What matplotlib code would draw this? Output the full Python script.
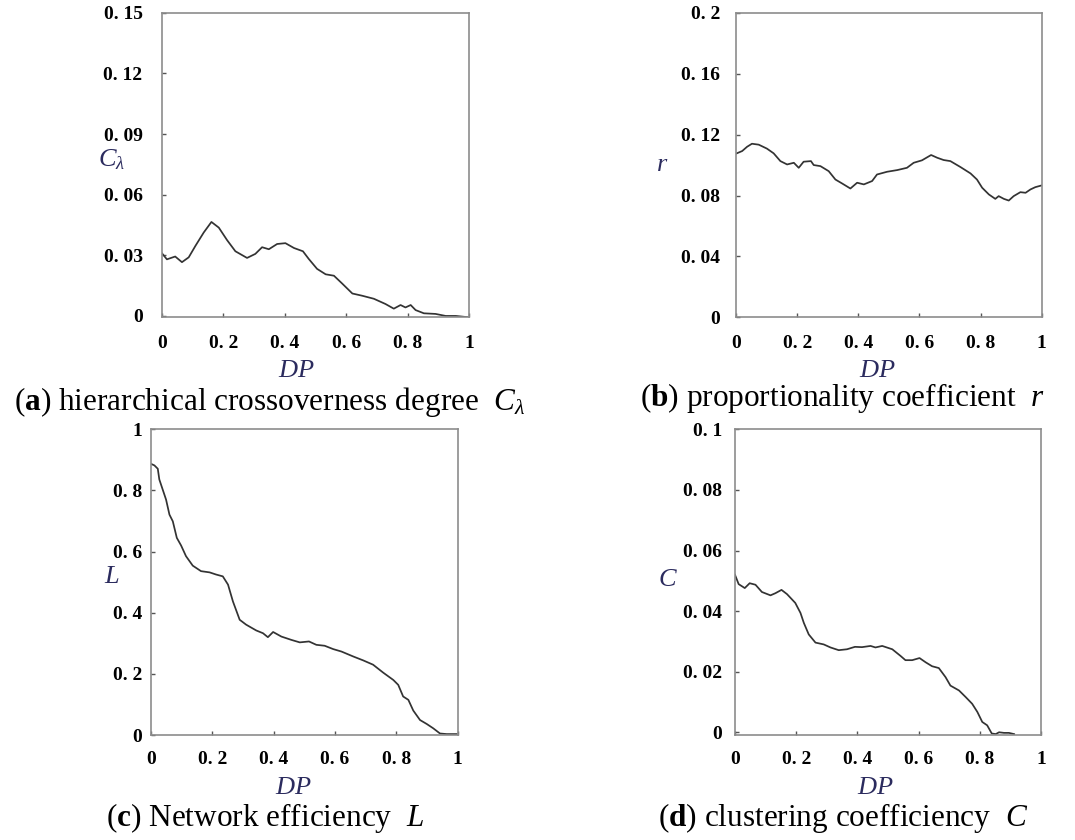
import matplotlib
matplotlib.use("Agg")
import matplotlib.pyplot as plt

plt.rcParams['font.family'] = ['Liberation Serif', 'DejaVu Serif']
plt.rcParams['mathtext.fontset'] = 'custom'
plt.rcParams['mathtext.rm'] = 'Liberation Serif'
plt.rcParams['mathtext.it'] = 'Liberation Serif:italic'
plt.rcParams['mathtext.bf'] = 'Liberation Serif:bold'

# (a) hierarchical crossoverness degree
xa = [0, 0.016, 0.043, 0.065, 0.087, 0.109, 0.136, 0.161, 0.185, 0.212, 0.239,
      0.277, 0.304, 0.326, 0.348, 0.375, 0.402, 0.43, 0.459, 0.478, 0.505, 0.533,
      0.56, 0.587, 0.62, 0.652, 0.69, 0.728, 0.755, 0.777, 0.793, 0.81, 0.826,
      0.853, 0.891, 0.924, 0.957, 0.995]
ya = [0.031, 0.028, 0.0294, 0.0266, 0.029, 0.0347, 0.0413, 0.0465, 0.0437, 0.0375,
      0.032, 0.0287, 0.0307, 0.034, 0.033, 0.0356, 0.036, 0.0336, 0.032, 0.0282,
      0.0233, 0.0206, 0.0199, 0.016, 0.0111, 0.010, 0.0085, 0.0059, 0.0036, 0.0054,
      0.0042, 0.0054, 0.0029, 0.0013, 0.001, 0.0, 0.0, -0.0006]

# (b) proportionality coefficient
xb = [0, 0.02, 0.036, 0.052, 0.074, 0.101, 0.123, 0.145, 0.167, 0.189, 0.205,
      0.221, 0.245, 0.254, 0.276, 0.303, 0.325, 0.347, 0.374, 0.396, 0.418, 0.445,
      0.461, 0.494, 0.527, 0.559, 0.581, 0.608, 0.638, 0.658, 0.679, 0.701, 0.734,
      0.767, 0.788, 0.805, 0.827, 0.848, 0.859, 0.876, 0.892, 0.908, 0.93, 0.947,
      0.963, 0.979, 0.999]
yb = [0.1075, 0.1092, 0.112, 0.114, 0.1134, 0.1108, 0.1077, 0.1026, 0.1004, 0.1015,
      0.0982, 0.1022, 0.1026, 0.100, 0.0993, 0.096, 0.0905, 0.0879, 0.0846, 0.0884,
      0.0873, 0.0895, 0.0938, 0.0956, 0.0967, 0.0982, 0.1015, 0.1031, 0.1066, 0.1048,
      0.1033, 0.1026, 0.0987, 0.0945, 0.0905, 0.0851, 0.0807, 0.0778, 0.0796, 0.0778,
      0.0767, 0.0796, 0.0822, 0.0818, 0.084, 0.0855, 0.0866]

# (c) network efficiency
xc = [0, 0.011, 0.022, 0.027, 0.038, 0.049, 0.06, 0.071, 0.084, 0.098, 0.114,
      0.136, 0.163, 0.191, 0.212, 0.234, 0.251, 0.267, 0.289, 0.31, 0.343, 0.365,
      0.381, 0.398, 0.425, 0.458, 0.485, 0.515, 0.539, 0.566, 0.594, 0.621, 0.659,
      0.692, 0.724, 0.757, 0.79, 0.806, 0.822, 0.839, 0.855, 0.877, 0.899, 0.92,
      0.942, 0.964, 0.997]
yc = [0.887, 0.882, 0.871, 0.836, 0.803, 0.77, 0.721, 0.699, 0.645, 0.62, 0.585,
      0.554, 0.536, 0.532, 0.525, 0.519, 0.492, 0.437, 0.377, 0.361, 0.342, 0.333,
      0.32, 0.337, 0.322, 0.311, 0.303, 0.306, 0.295, 0.292, 0.281, 0.273, 0.257,
      0.244, 0.23, 0.204, 0.18, 0.164, 0.126, 0.115, 0.08, 0.049, 0.036, 0.022,
      0.005, 0.003, 0.003]

# (d) clustering coefficient
xd = [0, 0.012, 0.032, 0.048, 0.067, 0.088, 0.116, 0.132, 0.152, 0.17, 0.197,
      0.214, 0.225, 0.241, 0.263, 0.29, 0.312, 0.339, 0.366, 0.392, 0.415, 0.443,
      0.459, 0.481, 0.514, 0.541, 0.557, 0.579, 0.603, 0.623, 0.644, 0.666, 0.688,
      0.704, 0.732, 0.754, 0.775, 0.792, 0.808, 0.824, 0.839, 0.852, 0.863, 0.879,
      0.895, 0.912]
yd = [0.052, 0.0489, 0.0476, 0.0492, 0.0487, 0.0463, 0.0452, 0.0459, 0.047, 0.0456,
      0.0427, 0.0394, 0.0361, 0.0323, 0.0296, 0.029, 0.028, 0.0271, 0.0274, 0.0282,
      0.0281, 0.0285, 0.028, 0.0285, 0.0274, 0.0252, 0.0238, 0.0238, 0.0245, 0.0231,
      0.0218, 0.0212, 0.0182, 0.0154, 0.0138, 0.0116, 0.0094, 0.0067, 0.0034, 0.0023,
      -0.0004, -0.0006, 0.0, -0.0002, -0.0002, -0.0006]

xticks = [0, 0.2, 0.4, 0.6, 0.8, 1]
xlabels = ["0", "0. 2", "0. 4", "0. 6", "0. 8", "1"]

panels = [
    # x, y, axes rect, ylim, yticks, ylabels, ylabel, ylabel pos, caption, caption pos, DP pos, pads
    (xa, ya, [0.1507, 0.6222, 0.2856, 0.3626], (-0.0007, 0.15),
     [0, 0.03, 0.06, 0.09, 0.12, 0.15], ["0", "0. 03", "0. 06", "0. 09", "0. 12", "0. 15"],
     r"$C_{\lambda}$", (0.104, 0.81),
     r"($\mathbf{a}$) hierarchical crossoverness degree  $C_{\lambda}$", (0.251, 0.521),
     (0.276, 0.558), 14, 13),
    (xb, yb, [0.6847, 0.6222, 0.2844, 0.3626], (0, 0.2),
     [0, 0.04, 0.08, 0.12, 0.16, 0.2], ["0", "0. 04", "0. 08", "0. 12", "0. 16", "0. 2"],
     r"$r$", (0.616, 0.803),
     r"($\mathbf{b}$) proportionality coefficient  $r$", (0.784, 0.526),
     (0.816, 0.558), 11.5, 13),
    (xc, yc, [0.1405, 0.125, 0.2853, 0.3639], (0, 1),
     [0, 0.2, 0.4, 0.6, 0.8, 1], ["0", "0. 2", "0. 4", "0. 6", "0. 8", "1"],
     r"$L$", (0.104, 0.313),
     r"($\mathbf{c}$) Network efficiency  $L$", (0.247, 0.026),
     (0.273, 0.062), 6.5, 11.5),
    (xd, yd, [0.6837, 0.125, 0.2847, 0.3639], (-0.0009, 0.1),
     [0, 0.02, 0.04, 0.06, 0.08, 0.1], ["0", "0. 02", "0. 04", "0. 06", "0. 08", "0. 1"],
     r"$C$", (0.621, 0.31),
     r"($\mathbf{d}$) clustering coefficiency  $C$", (0.784, 0.026),
     (0.814, 0.062), 9, 11.5),
]

fig = plt.figure(figsize=(10.75, 8.4), dpi=100)

for (x, y, rect, ylim, yt, ytl, ylab, ylpos, cap, cpos, dppos, ypad, xpad) in panels:
    ax = fig.add_axes(rect)
    ax.plot(x, y, color="#333333", lw=1.25)
    ax.set_xlim(0, 1)
    ax.set_ylim(*ylim)
    ax.set_xticks(xticks)
    ax.set_xticklabels(xlabels, fontweight="bold", fontsize=14)
    ax.set_yticks(yt)
    ax.set_yticklabels(ytl, fontweight="bold", fontsize=14)
    ax.tick_params(axis="both", direction="in", length=3, color="#555555", width=1)
    ax.tick_params(axis="y", pad=ypad)
    ax.tick_params(axis="x", pad=xpad)
    for s in ax.spines.values():
        s.set_color("#8c8c8c")
        s.set_linewidth(1.2)
    fig.text(ylpos[0], ylpos[1], ylab, fontsize=19, color="#2b2b5e", ha="center", va="center")
    fig.text(dppos[0], dppos[1], r"$DP$", fontsize=19, color="#2b2b5e", ha="center", va="center")
    fig.text(cpos[0], cpos[1], cap, fontsize=22.5, color="black", ha="center", va="center")

fig.savefig("out.png", dpi=100)
